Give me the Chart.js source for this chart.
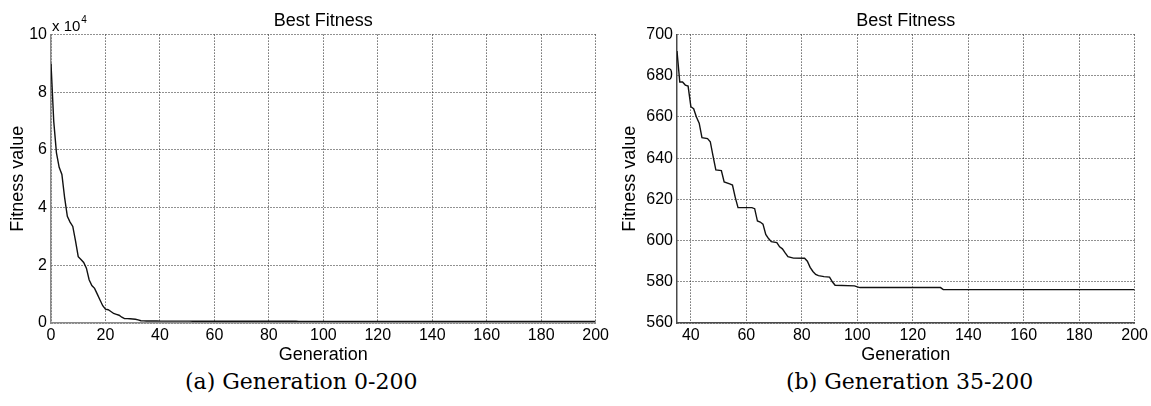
<!DOCTYPE html>
<html>
<head>
<meta charset="utf-8">
<script src="https://cdn.jsdelivr.net/npm/chart.js@4"></script>
<style>
  body { margin: 0; background: #fff; width: 1151px; height: 406px; position: relative; overflow: hidden; }
  canvas { position: absolute; top: 0; }
  .cap { position: absolute; top: 369px; font-family: "DejaVu Serif", serif; font-size: 22px; color: #000; white-space: nowrap; }
</style>
</head>
<body>
<canvas id="left" width="612" height="366" style="left:0"></canvas>
<canvas id="right" width="539" height="366" style="left:612px"></canvas>
<div class="cap" style="left:185px">(a) Generation 0-200</div>
<div class="cap" style="left:786px">(b) Generation 35-200</div>
<script>
// best fitness per generation
// early part (only visible on the full plot)
var earlyGen = [0, 1, 2, 3, 4, 5, 6, 7, 8, 9, 10, 11, 12, 13, 14, 15, 16, 17, 18, 19, 20,
  21, 22, 23, 24, 25, 26, 27, 28, 29, 30, 31, 32, 33, 34]
var earlyFit = [90000, 70000, 59000, 54000, 51500, 43500, 37000, 35000, 33500, 28500, 23000,
  22000, 21000, 19000, 15000, 13000, 12000, 10000, 8000, 6000, 4800,
  4600, 4000, 3300, 3000, 2700, 2000, 1500, 1500, 1450, 1400, 1300, 1100, 800, 720]
// late part, generation 35 onwards (zoomed plot)
var lateGen = [35, 36, 37, 38, 39, 40, 41, 42, 43, 44, 46, 47, 48, 49, 51, 52, 54, 55, 56, 57,
  62, 63, 64, 65, 66, 67, 68, 69, 71, 72, 73, 74, 75, 77, 81, 82, 83, 84, 85, 86,
  88, 90, 91, 92, 99, 100, 101, 130, 131, 200]
var lateFit = [692, 677, 677, 675.5, 675, 665, 664, 660, 657, 650, 649.5, 648, 641, 634.3, 634, 628.5, 627.5, 627, 621, 616,
  616, 615.5, 609.5, 609, 608, 603, 601, 599.5, 599, 597, 596, 594, 592.2, 591.5, 591.4, 590, 587, 585, 583.6, 583,
  582.5, 582.3, 580, 578.3, 578, 577.5, 577.2, 577.2, 576.2, 576.2]

var leftXTicks = [0, 20, 40, 60, 80, 100, 120, 140, 160, 180, 200]
var rightXTicks = [40, 60, 80, 100, 120, 140, 160, 180, 200]

Chart.defaults.font.family = '"Liberation Sans", Arial, sans-serif'
Chart.defaults.color = '#000'

function toPoints(g, v) {
  var out = []
  for (let i = 0; i < g.length; i++) out.push({x: g[i], y: v[i]})
  return out
}

// "x 10^4" multiplier over the y axis
const expLabel = {
  id: 'expLabel',
  afterDraw(chart) {
    const ctx = chart.ctx, a = chart.chartArea
    ctx.save()
    ctx.fillStyle = '#000'
    ctx.textBaseline = 'alphabetic'
    ctx.font = '15px "Liberation Sans", Arial, sans-serif'
    ctx.fillText('x 10', a.left + 1, a.top - 4)
    const w = ctx.measureText('x 10').width
    ctx.font = '10px "Liberation Sans", Arial, sans-serif'
    ctx.fillText('4', a.left + 2 + w, a.top - 12)
    ctx.restore()
  }
}

function makeConfig(points, xmin, xticks, ymin, ymax, ystep, yw, padRight, axisColor, yfmt, plugins) {
  return {
    type: 'line',
    data: {
      datasets: [{
        data: points,
        borderColor: '#111',
        borderWidth: 1.4,
        pointRadius: 0,
        tension: 0,
        fill: false
      }]
    },
    plugins: plugins,
    options: {
      responsive: false,
      animation: false,
      layout: { padding: { left: 0, right: padRight, top: 0, bottom: 0 } },
      plugins: {
        legend: { display: false },
        tooltip: { enabled: false },
        title: {
          display: true,
          text: 'Best Fitness',
          fullSize: false,
          font: { size: 18, weight: 'normal' },
          padding: { top: 10, bottom: 3 }
        }
      },
      scales: {
        x: {
          type: 'linear',
          min: xmin, max: 200,
          afterBuildTicks: s => { s.ticks = xticks.map(v => ({value: v})) },
          afterFit: s => { s.height = 43 },
          grid: { color: '#222', lineWidth: 1, drawTicks: false },
          border: { color: axisColor, width: 1.5, dash: [1, 2] },
          ticks: { font: { size: 16 }, padding: 3, maxRotation: 0 },
          title: { display: true, text: 'Generation', font: { size: 18 }, padding: { top: 0, bottom: 0 } }
        },
        y: {
          min: ymin, max: ymax,
          ticks: { stepSize: ystep, font: { size: 16 }, padding: 4, callback: yfmt },
          afterFit: s => { s.width = yw },
          grid: { color: '#222', lineWidth: 1, drawTicks: false },
          border: { color: axisColor, width: 1.5, dash: [1, 2] },
          title: { display: true, text: 'Fitness value', font: { size: 18 }, padding: { top: 7, bottom: 0 } }
        }
      }
    }
  }
}

const allPoints = toPoints(earlyGen.concat(lateGen), earlyFit.concat(lateFit))
const latePoints = toPoints(lateGen, lateFit)

new Chart(document.getElementById('left'),
  makeConfig(allPoints, 0, leftXTicks, 0, 100000, 20000, 51, 15, '#8a8a8a', v => v / 10000, [expLabel]))
new Chart(document.getElementById('right'),
  makeConfig(latePoints, 35, rightXTicks, 560, 700, 20, 65, 13, '#4a4a4a', v => v, []))
</script>
</body>
</html>
